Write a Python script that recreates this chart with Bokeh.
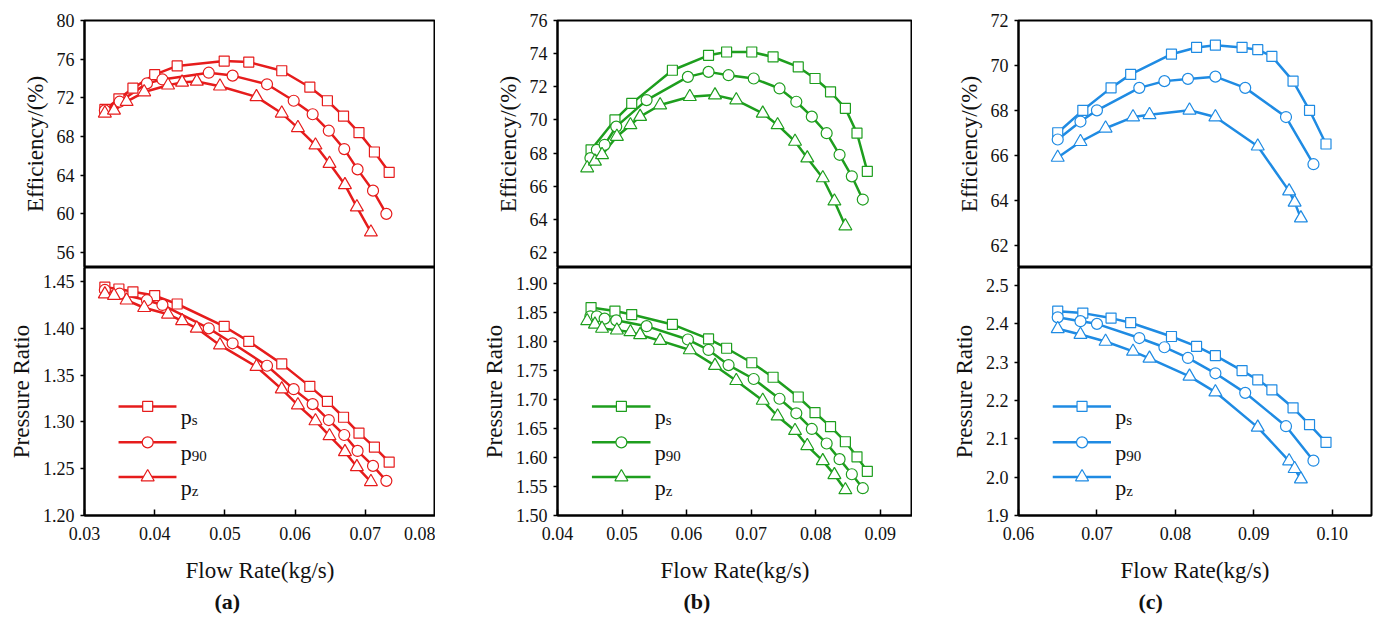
from bokeh.plotting import figure
from bokeh.layouts import row, column
from bokeh.models import FixedTicker, PrintfTickFormatter, Range1d, Title
from bokeh.core.properties import value
from bokeh.embed import file_html
from bokeh.resources import INLINE

FONT_LABEL = "'Liberation Serif'"   # axis labels / titles
FONT_TEXT = "Liberation Serif"      # tick labels / text glyphs

# ---------------- data: panel (a) ----------------
a_ps_x = [0.0329, 0.0349, 0.0369, 0.0400, 0.0432, 0.0499, 0.0534, 0.0581, 0.0621, 0.0646, 0.0669, 0.0691, 0.0713, 0.0734]
a_ps_eff = [70.8, 71.9, 73.0, 74.4, 75.3, 75.8, 75.7, 74.8, 73.1, 71.7, 70.1, 68.4, 66.4, 64.3]
a_ps_pr = [1.444, 1.442, 1.439, 1.435, 1.426, 1.402, 1.386, 1.362, 1.338, 1.322, 1.305, 1.288, 1.273, 1.257]

a_p90_x = [0.0329, 0.0350, 0.0389, 0.0411, 0.0477, 0.0511, 0.0560, 0.0598, 0.0625, 0.0648, 0.0670, 0.0689, 0.0711, 0.0730]
a_p90_eff = [70.7, 71.6, 73.5, 73.9, 74.6, 74.3, 73.4, 71.7, 70.3, 68.6, 66.7, 64.6, 62.4, 60.0]
a_p90_pr = [1.441, 1.437, 1.430, 1.425, 1.400, 1.384, 1.360, 1.335, 1.319, 1.302, 1.286, 1.269, 1.253, 1.237]

a_pz_x = [0.0329, 0.0342, 0.0360, 0.0385, 0.0419, 0.0439, 0.0460, 0.0493, 0.0545, 0.0581, 0.0604, 0.0629, 0.0649, 0.0671, 0.0688, 0.0708]
a_pz_eff = [70.4, 70.7, 71.6, 72.6, 73.3, 73.6, 73.7, 73.2, 72.1, 70.4, 68.9, 67.1, 65.2, 63.0, 60.7, 58.1]
a_pz_pr = [1.4365, 1.435, 1.430, 1.422, 1.415, 1.408, 1.400, 1.382, 1.359, 1.335, 1.318, 1.301, 1.285, 1.268, 1.252, 1.236]

# ---------------- data: panel (b) ----------------
b_ps_x = [0.0452, 0.0489, 0.0515, 0.0578, 0.0634, 0.0662, 0.0701, 0.0734, 0.0773, 0.0799, 0.0823, 0.0846, 0.0864, 0.0880]
b_ps_eff = [68.2, 70.0, 71.0, 73.0, 73.9, 74.1, 74.1, 73.8, 73.2, 72.5, 71.7, 70.7, 69.2, 66.9]
b_ps_pr = [1.858, 1.852, 1.846, 1.829, 1.804, 1.788, 1.763, 1.738, 1.704, 1.677, 1.653, 1.627, 1.601, 1.576]

b_p90_x = [0.0451, 0.0461, 0.0473, 0.0491, 0.0538, 0.0602, 0.0634, 0.0665, 0.0704, 0.0744, 0.0770, 0.0794, 0.0817, 0.0837, 0.0856, 0.0873]
b_p90_eff = [67.7, 68.2, 68.5, 69.6, 71.2, 72.6, 72.9, 72.7, 72.5, 71.9, 71.1, 70.2, 69.2, 67.9, 66.6, 65.2]
b_p90_pr = [1.843, 1.843, 1.839, 1.836, 1.826, 1.803, 1.785, 1.759, 1.735, 1.701, 1.676, 1.649, 1.624, 1.597, 1.571, 1.547]

b_pz_x = [0.0446, 0.0458, 0.0469, 0.0492, 0.0513, 0.0528, 0.0559, 0.0605, 0.0644, 0.0677, 0.0718, 0.0741, 0.0768, 0.0787, 0.0811, 0.0829, 0.0846]
b_pz_eff = [67.1, 67.5, 67.9, 69.0, 69.7, 70.2, 70.9, 71.4, 71.5, 71.2, 70.4, 69.7, 68.7, 67.7, 66.5, 65.1, 63.6]
b_pz_pr = [1.835, 1.829, 1.822, 1.819, 1.816, 1.811, 1.801, 1.785, 1.758, 1.732, 1.698, 1.671, 1.646, 1.620, 1.594, 1.570, 1.544]

# ---------------- data: panel (c) ----------------
c_ps_x = [0.0650, 0.0682, 0.0718, 0.0743, 0.0795, 0.0827, 0.0851, 0.0885, 0.0905, 0.0923, 0.0950, 0.0971, 0.0992]
c_ps_eff = [67.0, 68.0, 69.0, 69.6, 70.5, 70.8, 70.9, 70.8, 70.7, 70.4, 69.3, 68.0, 66.5]
c_ps_pr = [2.433, 2.428, 2.415, 2.403, 2.367, 2.341, 2.317, 2.278, 2.254, 2.228, 2.181, 2.137, 2.091]

c_p90_x = [0.0650, 0.0679, 0.0700, 0.0754, 0.0786, 0.0816, 0.0851, 0.0889, 0.0941, 0.0976]
c_p90_eff = [66.7, 67.5, 68.0, 69.0, 69.3, 69.4, 69.5, 69.0, 67.7, 65.6]
c_p90_pr = [2.417, 2.407, 2.400, 2.363, 2.339, 2.311, 2.271, 2.220, 2.133, 2.043]

c_pz_x = [0.0650, 0.0679, 0.0711, 0.0746, 0.0767, 0.0818, 0.0851, 0.0905, 0.0945, 0.0952, 0.0960]
c_pz_eff = [65.9, 66.6, 67.2, 67.7, 67.8, 68.0, 67.7, 66.4, 64.4, 63.9, 63.2]
c_pz_pr = [2.387, 2.372, 2.354, 2.328, 2.310, 2.263, 2.222, 2.130, 2.042, 2.022, 1.995]

series_labels = ["s", "90", "z"]
markers = ["square", "circle", "triangle"]
marker_sizes = [10, 11, 13]

# axis ticks
a_xticks = [0.03, 0.04, 0.05, 0.06, 0.07, 0.08]
a_eff_ticks = [56, 60, 64, 68, 72, 76, 80]
a_pr_ticks = [1.20, 1.25, 1.30, 1.35, 1.40, 1.45]
b_xticks = [0.04, 0.05, 0.06, 0.07, 0.08, 0.09]
b_eff_ticks = [62, 64, 66, 68, 70, 72, 74, 76]
b_pr_ticks = [1.50, 1.55, 1.60, 1.65, 1.70, 1.75, 1.80, 1.85, 1.90]
c_xticks = [0.06, 0.07, 0.08, 0.09, 0.10]
c_eff_ticks = [62, 64, 66, 68, 70, 72]
c_pr_ticks = [1.9, 2.0, 2.1, 2.2, 2.3, 2.4, 2.5]

panels = [
    dict(name="(a)", color="#e61c1c",
         xr=(0.03, 0.08), xt=a_xticks,
         er=(54.45, 80.0), et=a_eff_ticks,
         pr=(1.20, 1.465), pt=a_pr_ticks, pfmt="%.2f",
         series=[(a_ps_x, a_ps_eff, a_ps_pr), (a_p90_x, a_p90_eff, a_p90_pr), (a_pz_x, a_pz_eff, a_pz_pr)],
         left=84, fw=351, right=0, toff=130),
    dict(name="(b)", color="#1e9e1e",
         xr=(0.04, 0.095), xt=b_xticks,
         er=(61.1, 76.0), et=b_eff_ticks,
         pr=(1.50, 1.927), pt=b_pr_ticks, pfmt="%.2f",
         series=[(b_ps_x, b_ps_eff, b_ps_pr), (b_p90_x, b_p90_eff, b_p90_pr), (b_pz_x, b_pz_eff, b_pz_pr)],
         left=122, fw=355, right=0, toff=126),
    dict(name="(c)", color="#1f8be3",
         xr=(0.06, 0.105), xt=c_xticks,
         er=(61.0, 72.0), et=c_eff_ticks,
         pr=(1.90, 2.547), pt=c_pr_ticks, pfmt="%.1f",
         series=[(c_ps_x, c_ps_eff, c_ps_pr), (c_p90_x, c_p90_eff, c_p90_pr), (c_pz_x, c_pz_eff, c_pz_pr)],
         left=106, fw=353, right=2, toff=120),
]


def frac(r, f):
    return r[0] + f * (r[1] - r[0])


def style_common(p):
    p.outline_line_color = "black"
    p.outline_line_width = 2
    p.outline_line_alpha = 1.0
    p.xgrid.visible = False
    p.ygrid.visible = False
    p.background_fill_color = "white"
    p.border_fill_color = "white"
    for ax in p.yaxis:
        ax.axis_line_color = "black"
        ax.axis_line_width = 2
        ax.major_tick_line_color = "black"
        ax.major_tick_line_width = 1.5
        ax.major_tick_out = 4
        ax.major_tick_in = 0
        ax.minor_tick_line_color = None
        ax.major_label_text_font = FONT_TEXT
        ax.major_label_text_font_size = "18px"
        ax.major_label_text_color = "#111111"
        ax.major_label_standoff = 6
        ax.axis_label_text_font = FONT_LABEL
        ax.axis_label_text_font_size = "23px"
        ax.axis_label_text_font_style = "normal"
        ax.axis_label_text_color = "#111111"
        ax.axis_label_standoff = 6


cols = []
for pan in panels:
    xr = Range1d(*pan["xr"])
    col = pan["color"]

    top = figure(frame_width=pan["fw"], frame_height=247, x_range=xr, y_range=Range1d(*pan["er"]),
                 x_axis_location=None, toolbar_location=None, output_backend="svg",
                 min_border_left=pan["left"], min_border_right=pan["right"],
                 min_border_top=20, min_border_bottom=0)
    style_common(top)
    top.yaxis.ticker = FixedTicker(ticks=pan["et"])
    top.yaxis.formatter = PrintfTickFormatter(format="%d")
    top.yaxis.axis_label = "Efficiency/(%)"

    bot = figure(frame_width=pan["fw"], frame_height=248, x_range=xr, y_range=Range1d(*pan["pr"]),
                 toolbar_location=None, output_backend="svg",
                 min_border_left=pan["left"], min_border_right=pan["right"],
                 min_border_top=0, min_border_bottom=100)
    style_common(bot)
    bot.yaxis.ticker = FixedTicker(ticks=pan["pt"])
    bot.yaxis.formatter = PrintfTickFormatter(format=pan["pfmt"])
    bot.yaxis.axis_label = "Pressure Ratio"
    xa = bot.xaxis[0]
    xa.ticker = FixedTicker(ticks=pan["xt"])
    xa.formatter = PrintfTickFormatter(format="%.2f")
    xa.axis_line_color = "black"
    xa.axis_line_width = 2
    xa.major_tick_line_color = "black"
    xa.major_tick_line_width = 1.5
    xa.major_tick_in = 6
    xa.major_tick_out = 0
    xa.minor_tick_line_color = None
    xa.major_label_text_font = FONT_TEXT
    xa.major_label_text_font_size = "18px"
    xa.major_label_text_color = "#111111"
    xa.major_label_standoff = 11
    xa.axis_label = "Flow Rate(kg/s)"
    xa.axis_label_text_font = FONT_LABEL
    xa.axis_label_text_font_size = "23px"
    xa.axis_label_text_font_style = "normal"
    xa.axis_label_text_color = "#111111"
    xa.axis_label_standoff = 15

    bot.add_layout(Title(text=pan["name"], align="left", offset=pan["toff"], text_font=FONT_LABEL,
                         text_font_size="22px", text_font_style="bold", text_color="#111111",
                         standoff=2), "below")

    for (x, e, pr) in pan["series"]:
        top.line(x, e, line_color=col, line_width=2.5)
        bot.line(x, pr, line_color=col, line_width=2.5)
    for (x, e, pr), mk, ms in zip(pan["series"], markers, marker_sizes):
        top.scatter(x, e, marker=mk, size=ms, fill_color="white", line_color=col, line_width=1.2)
        bot.scatter(x, pr, marker=mk, size=ms, fill_color="white", line_color=col, line_width=1.2)

    xrng = pan["xr"]
    yrng = pan["pr"]
    for yf, mk, ms, sub in zip([0.44, 0.295, 0.155], markers, marker_sizes, series_labels):
        yy = frac(yrng, yf)
        bot.line([frac(xrng, 0.097), frac(xrng, 0.262)], [yy, yy], line_color=col, line_width=2.5)
        bot.scatter([frac(xrng, 0.18)], [yy], marker=mk, size=ms, fill_color="white",
                    line_color=col, line_width=1.2)
        tx = frac(xrng, 0.274)
        bot.text([tx], [yy], text=["p"], text_font=value(FONT_TEXT), text_font_size="22px",
                 text_align="left", text_baseline="alphabetic", y_offset=10, text_color="#111111")
        bot.text([tx], [yy], text=[sub], text_font=value(FONT_TEXT), text_font_size="15px",
                 text_align="left", text_baseline="alphabetic", x_offset=11, y_offset=14,
                 text_color="#111111")

    cols.append(column(top, bot, spacing=0))

layout = row(*cols, spacing=0)
open("out.html", "w").write(file_html(layout, INLINE))
